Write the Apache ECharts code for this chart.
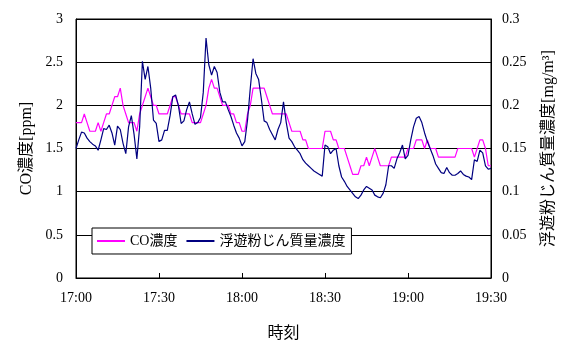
<!DOCTYPE html>
<html>
<head>
<meta charset="utf-8">
<script src="https://cdn.jsdelivr.net/npm/echarts@6/dist/echarts.min.js"></script>
<style>html,body{margin:0;padding:0;background:#fff;}#c{width:565px;height:347px;}</style>
</head>
<body>
<div id="c"></div>
<script>
// minutes after 17:00, one value per minute (0..150)
const tickLabels = ['17:00', '17:30', '18:00', '18:30', '19:00', '19:30'];
const seriesNames = ['CO濃度', '浮遊粉じん質量濃度'];
// CO concentration [ppm]
const coValues = [
  1.8,1.8,1.8,1.9,1.8,1.7,1.7,1.7,1.8,1.7,
  1.8,1.9,1.9,2.0,2.1,2.1,2.2,2.0,1.9,1.8,
  1.8,1.8,1.7,1.9,2.0,2.1,2.2,2.1,2.0,2.0,
  1.9,1.9,1.9,1.9,2.0,2.1,2.1,2.0,1.9,1.9,
  1.9,1.9,1.8,1.8,1.8,1.8,1.9,2.0,2.2,2.3,
  2.2,2.2,2.1,2.0,2.0,2.0,1.9,1.9,1.8,1.8,
  1.7,1.7,1.9,2.0,2.2,2.2,2.2,2.2,2.2,2.1,
  2.0,1.9,1.9,1.9,1.9,1.9,1.9,1.8,1.7,1.7,
  1.7,1.7,1.6,1.6,1.5,1.5,1.5,1.5,1.5,1.5,
  1.7,1.7,1.7,1.6,1.6,1.5,1.5,1.5,1.4,1.3,
  1.2,1.2,1.2,1.3,1.3,1.4,1.3,1.4,1.5,1.4,
  1.3,1.3,1.3,1.3,1.4,1.4,1.4,1.4,1.4,1.4,
  1.5,1.5,1.5,1.6,1.6,1.6,1.5,1.6,1.5,1.5,
  1.5,1.4,1.4,1.4,1.4,1.4,1.4,1.4,1.5,1.5,
  1.5,1.5,1.5,1.5,1.4,1.5,1.6,1.6,1.5,1.3,
  1.3
];
// suspended dust mass concentration [mg/m3]
const dustValues = [
  0.150,0.160,0.169,0.168,0.162,0.158,0.155,0.153,0.148,0.160,
  0.173,0.172,0.177,0.168,0.154,0.176,0.172,0.156,0.144,0.175,
  0.188,0.166,0.138,0.175,0.251,0.230,0.245,0.220,0.183,0.179,
  0.158,0.160,0.171,0.171,0.188,0.210,0.212,0.200,0.179,0.182,
  0.195,0.204,0.190,0.178,0.180,0.186,0.215,0.278,0.247,0.235,
  0.245,0.238,0.215,0.204,0.204,0.195,0.187,0.177,0.168,0.162,
  0.153,0.158,0.183,0.220,0.254,0.237,0.230,0.207,0.182,0.180,
  0.172,0.166,0.160,0.172,0.180,0.204,0.180,0.162,0.158,0.152,
  0.148,0.144,0.137,0.133,0.130,0.127,0.124,0.122,0.120,0.118,
  0.154,0.152,0.144,0.148,0.150,0.130,0.117,0.112,0.106,0.102,
  0.098,0.094,0.092,0.096,0.102,0.106,0.104,0.102,0.096,0.094,
  0.093,0.098,0.108,0.130,0.130,0.127,0.138,0.145,0.154,0.138,
  0.142,0.160,0.175,0.185,0.187,0.180,0.168,0.158,0.150,0.142,
  0.132,0.127,0.122,0.121,0.128,0.122,0.119,0.119,0.121,0.124,
  0.120,0.118,0.117,0.114,0.137,0.135,0.148,0.145,0.130,0.126,
  0.127
];

const serif = '"Liberation Serif", "Times New Roman", serif';
const jp = '"Liberation Serif", "Noto Sans CJK JP", serif';

const chart = echarts.init(document.getElementById('c'), null, {renderer: 'canvas'});
chart.setOption({
  animation: false,
  backgroundColor: '#fff',
  grid: {left: 76, right: 68, top: 19, bottom: 69, show: true, borderColor: '#000', borderWidth: 1, backgroundColor: 'transparent'},
  legend: {
    left: 92, top: 228,
    padding: [6, 6, 6, 5],
    itemGap: 9,
    itemWidth: 28, itemHeight: 2,
    icon: 'rect',
    backgroundColor: '#fff',
    borderColor: '#000', borderWidth: 1,
    textStyle: {fontFamily: jp, fontSize: 14, color: '#000'},
    data: seriesNames
  },
  xAxis: {
    type: 'value', min: 0, max: 150, interval: 30,
    name: '時刻', nameLocation: 'middle', nameGap: 48,
    nameTextStyle: {fontFamily: jp, fontSize: 16, color: '#000'},
    axisLine: {lineStyle: {color: '#000', width: 1}},
    axisTick: {inside: true, length: 5, lineStyle: {color: '#000'}},
    axisLabel: {margin: 13, fontFamily: serif, fontSize: 14, color: '#000',
      formatter: v => tickLabels[Math.round(v / 30)]},
    splitLine: {show: false}
  },
  yAxis: [{
    type: 'value', min: 0, max: 3, interval: 0.5,
    name: 'CO濃度[ppm]', nameLocation: 'middle', nameGap: 38, nameRotate: 90,
    nameTextStyle: {fontFamily: jp, fontSize: 16, color: '#000'},
    axisLine: {show: true, lineStyle: {color: '#000'}},
    axisTick: {show: false},
    axisLabel: {margin: 13, fontFamily: serif, fontSize: 14, color: '#000'},
    splitLine: {show: true, lineStyle: {color: '#000', width: 1}}
  }, {
    type: 'value', min: 0, max: 0.3, interval: 0.05,
    name: '浮遊粉じん質量濃度[mg/m³]', nameLocation: 'middle', nameGap: 50, nameRotate: 90,
    nameTextStyle: {fontFamily: jp, fontSize: 16, color: '#000'},
    axisLine: {show: true, lineStyle: {color: '#000'}},
    axisTick: {show: false},
    axisLabel: {margin: 11, fontFamily: serif, fontSize: 14, color: '#000'},
    splitLine: {show: false}
  }],
  series: [{
    name: seriesNames[0], type: 'line', yAxisIndex: 0,
    showSymbol: false, symbol: 'none',
    lineStyle: {color: '#FF00FF', width: 1.2}, itemStyle: {color: '#FF00FF'},
    data: coValues.map((v, i) => [i, v]), z: 3
  }, {
    name: seriesNames[1], type: 'line', yAxisIndex: 1,
    showSymbol: false, symbol: 'none',
    lineStyle: {color: '#000080', width: 1.2}, itemStyle: {color: '#000080'},
    data: dustValues.map((v, i) => [i, v]), z: 4
  }]
});
</script>
</body>
</html>
